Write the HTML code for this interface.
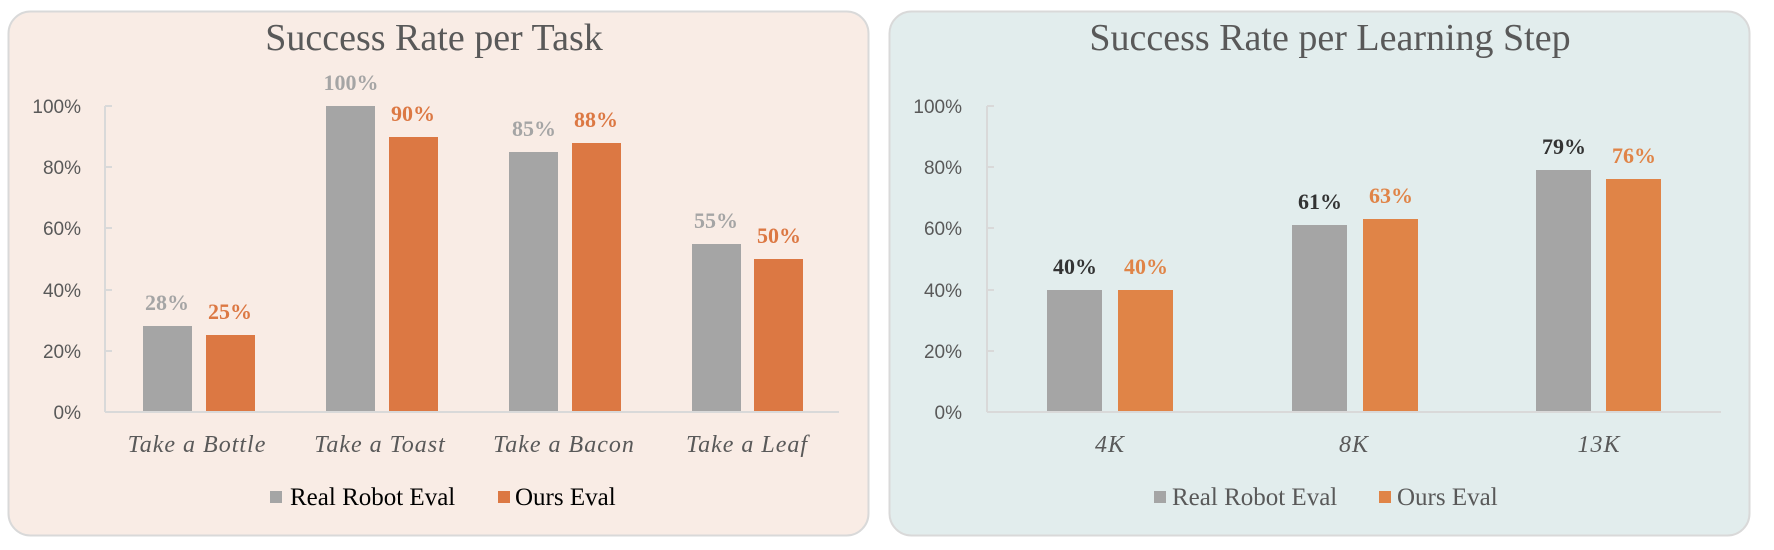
<!DOCTYPE html>
<html><head><meta charset="utf-8"><style>
html,body{margin:0;padding:0;background:#fff;width:1774px;height:550px;overflow:hidden}
svg{display:block}
.t{font-family:"Liberation Serif",serif;font-size:38px;fill:#595959}
.y{font-family:"Liberation Sans",sans-serif;font-size:19px;fill:#595959}
.c{font-family:"Liberation Serif",serif;font-style:italic;font-size:24px;fill:#595959;letter-spacing:1px}
.v{font-family:"Liberation Serif",serif;font-weight:bold;font-size:22px}
.l{font-family:"Liberation Serif",serif;font-size:25px}
</style></head><body>
<svg width="1774" height="550" viewBox="0 0 1774 550">
<!-- left panel -->
<rect x="8.5" y="11.5" width="860" height="524" rx="22" fill="#f9ece5" stroke="#d9d9d9" stroke-width="2"/>
<text class="t" x="434" y="50" text-anchor="middle">Success Rate per Task</text>
<g stroke="#d9d9d9" stroke-width="2">
<line x1="105" y1="106" x2="105" y2="412"/>
<line x1="105" y1="412" x2="839" y2="412"/>
<line x1="105" y1="106" x2="112" y2="106"/><line x1="105" y1="167" x2="112" y2="167"/><line x1="105" y1="228" x2="112" y2="228"/><line x1="105" y1="290" x2="112" y2="290"/><line x1="105" y1="351" x2="112" y2="351"/>
</g>
<g class="y" text-anchor="end">
<text x="81" y="113">100%</text><text x="81" y="174">80%</text><text x="81" y="235">60%</text><text x="81" y="297">40%</text><text x="81" y="358">20%</text><text x="81" y="419">0%</text>
</g>
<g fill="#a5a5a5">
<rect x="143" y="326" width="49" height="85"/><rect x="326" y="106" width="49" height="305"/><rect x="509" y="152" width="49" height="259"/><rect x="692" y="244" width="49" height="167"/>
</g>
<g fill="#dc7843">
<rect x="206" y="335" width="49" height="76"/><rect x="389" y="137" width="49" height="274"/><rect x="572" y="143" width="49" height="268"/><rect x="754" y="259" width="49" height="152"/>
</g>
<g class="v" text-anchor="middle" fill="#a5a5a5">
<text x="167" y="310">28%</text><text x="351" y="90">100%</text><text x="534" y="136">85%</text><text x="716" y="228">55%</text>
</g>
<g class="v" text-anchor="middle" fill="#dc7843">
<text x="230" y="319">25%</text><text x="413" y="121">90%</text><text x="596" y="127">88%</text><text x="779" y="243">50%</text>
</g>
<g class="c" text-anchor="middle">
<text x="197" y="452">Take a Bottle</text><text x="380" y="452">Take a Toast</text><text x="564" y="452">Take a Bacon</text><text x="747" y="452">Take a Leaf</text>
</g>
<rect x="270" y="491" width="12" height="12" fill="#a5a5a5"/>
<text class="l" x="290" y="505" fill="#000">Real Robot Eval</text>
<rect x="498" y="491" width="12" height="12" fill="#dc7843"/>
<text class="l" x="515" y="505" fill="#000">Ours Eval</text>

<!-- right panel -->
<rect x="889.5" y="11.5" width="860" height="524" rx="22" fill="#e2eded" stroke="#d9d9d9" stroke-width="2"/>
<text class="t" x="1330" y="50" text-anchor="middle">Success Rate per Learning Step</text>
<g stroke="#d9d9d9" stroke-width="2">
<line x1="987" y1="106" x2="987" y2="412"/>
<line x1="987" y1="412" x2="1721" y2="412"/>
<line x1="987" y1="106" x2="994" y2="106"/><line x1="987" y1="167" x2="994" y2="167"/><line x1="987" y1="228" x2="994" y2="228"/><line x1="987" y1="290" x2="994" y2="290"/><line x1="987" y1="351" x2="994" y2="351"/>
</g>
<g class="y" text-anchor="end">
<text x="962" y="113">100%</text><text x="962" y="174">80%</text><text x="962" y="235">60%</text><text x="962" y="297">40%</text><text x="962" y="358">20%</text><text x="962" y="419">0%</text>
</g>
<g fill="#a5a5a5">
<rect x="1047" y="290" width="55" height="121"/><rect x="1292" y="225" width="55" height="186"/><rect x="1536" y="170" width="55" height="241"/>
</g>
<g fill="#e08447">
<rect x="1118" y="290" width="55" height="121"/><rect x="1363" y="219" width="55" height="192"/><rect x="1606" y="179" width="55" height="232"/>
</g>
<g class="v" text-anchor="middle" fill="#333">
<text x="1075" y="274">40%</text><text x="1320" y="209">61%</text><text x="1564" y="154">79%</text>
</g>
<g class="v" text-anchor="middle" fill="#e08447">
<text x="1146" y="274">40%</text><text x="1391" y="203">63%</text><text x="1634" y="163">76%</text>
</g>
<g class="c" text-anchor="middle">
<text x="1110" y="452">4K</text><text x="1354" y="452">8K</text><text x="1599" y="452">13K</text>
</g>
<rect x="1154" y="491" width="12" height="12" fill="#a5a5a5"/>
<text class="l" x="1172" y="505" fill="#595959">Real Robot Eval</text>
<rect x="1379" y="491" width="12" height="12" fill="#e08447"/>
<text class="l" x="1397" y="505" fill="#595959">Ours Eval</text>
</svg>
</body></html>
